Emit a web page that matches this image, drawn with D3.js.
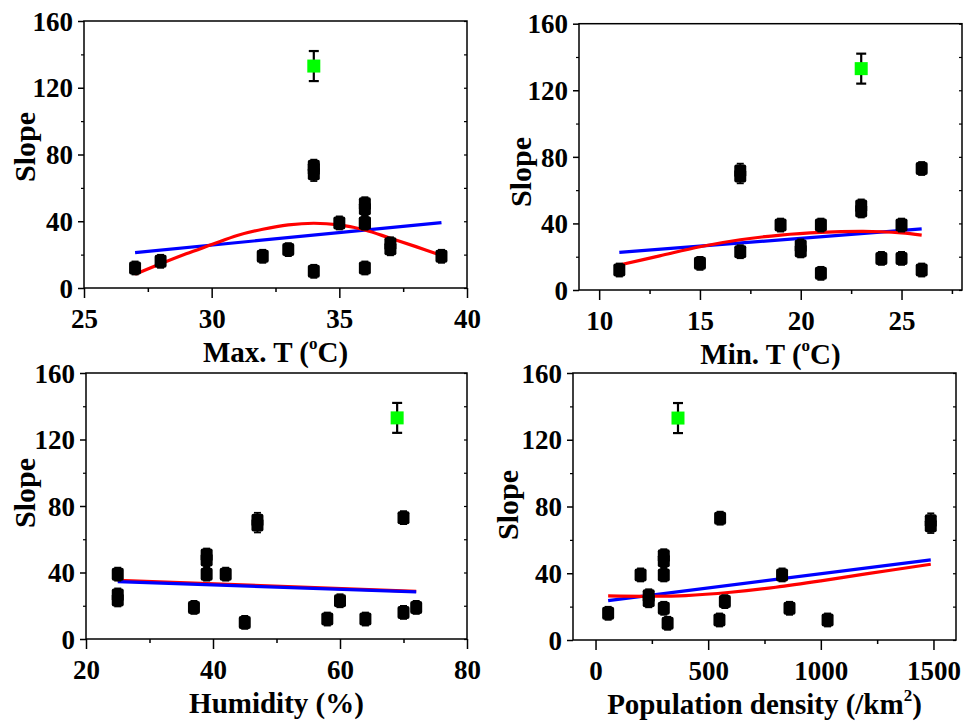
<!DOCTYPE html>
<html>
<head>
<meta charset="utf-8">
<script src="https://cdn.jsdelivr.net/npm/d3@7/dist/d3.min.js"></script>
<style>
  html, body { margin: 0; padding: 0; background: #fff; }
  svg text { font-family: "Liberation Serif", "Times New Roman", serif !important; font-weight: bold; fill: #000; }
</style>
</head>
<body>
<svg id="chart" width="963" height="722"></svg>
<script>
// ---------- DATA ----------
// Slope of each measurement (black points) and its error
const slopeValues = [16, 10, 68.5, 71.5, 73, 12, 12, 19, 19, 23, 39, 39, 39, 47.5, 50.5, 23.5, 26.5];
const slopeErrors = [1.5, 1.5, 2, 2, 1.5, 1.5, 1.5, 1.5, 1.5, 1.5, 1.5, 1.5, 1.5, 1.5, 1.5, 1.5, 1.5];
// Highlighted (green) site
const greenSlope = 133;
const greenError = 9;

// Predictor values for the same measurements (same order as slopeValues)
const maxT       = [28, 34, 34, 34, 34, 27, 36, 32, 39, 33, 35, 36, 36, 36, 36, 37, 37];
const minT       = [15, 21, 17, 17, 26, 11, 26, 24, 25, 17, 19, 21, 25, 23, 23, 20, 20];
const humidity   = [70, 45, 47, 47, 70, 58, 64, 37, 72, 60, 25, 39, 42, 39, 39, 25, 25];
const popDensity = [56, 320, 1488, 1488, 553, 550, 1030, 303, 861, 574, 200, 303, 828, 303, 303, 236, 236];
const greenX = { maxT: 34, minT: 23, humidity: 69, popDensity: 366 };

// Linear fits (blue) — endpoints
const linMaxT = { x: [27, 39], y: [21.2, 39.2] };
const linMinT = { x: [11, 26], y: [22.6, 36.7] };
const linHum  = { x: [25, 72], y: [34.5, 28.3] };
const linPop  = { x: [56, 1488], y: [23.6, 48] };

// Non-linear fits (red)
const curveMaxT = { x: [27, 28, 29, 30, 31, 32, 33, 34, 35, 36, 37, 38, 39],
                    y: [8.2, 14.5, 20.5, 26, 31.5, 35.2, 37.8, 38.8, 37.8, 34.8, 29.8, 24.8, 19.5] };
const curveMinT = { x: [11, 13, 15, 17, 19, 21, 23, 24, 25, 26],
                    y: [15, 20.5, 26, 30.2, 33, 34.6, 35.2, 35, 34.3, 33] };
const curveHum  = { x: [25, 72], y: [35.3, 28.7] };
const curvePop  = { x: [56, 236, 400, 600, 800, 1000, 1200, 1488],
                    y: [26.4, 26.2, 26.6, 28.6, 31.6, 35.4, 39.6, 45.4] };

// Axis ticks
const yTicks = [0, 40, 80, 120, 160];
const yMinorTicks = [20, 60, 100, 140];
const ticksMaxT = [25, 30, 35, 40];
const ticksMinT = [10, 15, 20, 25];
const ticksHum = [20, 40, 60, 80];
const ticksPop = [0, 500, 1000, 1500];

// ---------- PANELS ----------
const FONT = '"Liberation Serif", "Times New Roman", serif';
const panels = [
  { xs: maxT, gx: greenX.maxT, domain: [25, 40], ticks: ticksMaxT, minor: [27.5, 32.5, 37.5],
    lin: linMaxT, cur: curveMaxT, box: { l: 84, r: 467, t: 21, b: 288 },
    title: ["Max. T (", "o", "C)"], slopeY: 147, slopeX: 25, blueOnTop: false },
  { xs: minT, gx: greenX.minT, domain: [9, 28], ticks: ticksMinT, minor: [12.5, 17.5, 22.5, 27.5],
    lin: linMinT, cur: curveMinT, box: { l: 579, r: 962, t: 23.7, b: 290 },
    title: ["Min. T (", "o", "C)"], slopeY: 172, slopeX: 521, blueOnTop: false },
  { xs: humidity, gx: greenX.humidity, domain: [20, 80], ticks: ticksHum, minor: [30, 50, 70],
    lin: linHum, cur: curveHum, box: { l: 86, r: 467, t: 373, b: 639 },
    title: ["Humidity (%)"], slopeY: 493, slopeX: 25, blueOnTop: true },
  { xs: popDensity, gx: greenX.popDensity, domain: [-100, 1600], ticks: ticksPop, minor: [250, 750, 1250],
    lin: linPop, cur: curvePop, box: { l: 573, r: 956, t: 373, b: 640 },
    title: ["Population density (/km", "2", ")"], slopeY: 505, slopeX: 508, blueOnTop: false }
];

const svg = d3.select("#chart");

panels.forEach(p => {
  const B = p.box;
  const x = d3.scaleLinear().domain(p.domain).range([B.l, B.r]);
  const y = d3.scaleLinear().domain([0, 160]).range([B.b, B.t]);
  const g = svg.append("g");

  // Frame
  g.append("rect").attr("x", B.l).attr("y", B.t).attr("width", B.r - B.l).attr("height", B.b - B.t)
    .attr("fill", "none").attr("stroke", "#000").attr("stroke-width", 1.5);

  // Bottom axis
  const xAxis = d3.axisBottom(x).tickValues(p.ticks).tickSize(10).tickPadding(6).tickFormat(d3.format("d"));
  const gx = g.append("g").attr("transform", `translate(0,${B.b})`).call(xAxis)
    .attr("font-family", FONT).attr("font-size", 27).attr("font-weight", "bold");
  gx.select(".domain").remove();
  gx.selectAll(".tick line").attr("stroke-width", 1.5);
  gx.selectAll(".tick text").attr("dy", null).attr("y", 40)
    .attr("font-family", FONT).attr("font-size", 27).attr("font-weight", "bold");
  const xMinor = d3.axisBottom(x).tickValues(p.minor).tickSize(4).tickFormat("");
  const gxm = g.append("g").attr("transform", `translate(0,${B.b})`).call(xMinor);
  gxm.select(".domain").remove();
  gxm.selectAll(".tick line").attr("stroke-width", 1.5);

  // Left axis
  const yAxis = d3.axisLeft(y).tickValues(yTicks).tickSize(6).tickPadding(5).tickFormat(d3.format("d"));
  const gy = g.append("g").attr("transform", `translate(${B.l},0)`).call(yAxis)
    .attr("font-family", FONT).attr("font-size", 27).attr("font-weight", "bold");
  gy.select(".domain").remove();
  gy.selectAll(".tick line").attr("stroke-width", 1.5);
  gy.selectAll(".tick text").attr("dy", "0.34em")
    .attr("font-family", FONT).attr("font-size", 27).attr("font-weight", "bold");
  const yMinor = d3.axisLeft(y).tickValues(yMinorTicks).tickSize(3).tickFormat("");
  const gym = g.append("g").attr("transform", `translate(${B.l},0)`).call(yMinor);
  gym.select(".domain").remove();
  gym.selectAll(".tick line").attr("stroke-width", 1.2);

  // Right axis (inward ticks)
  const yRight = d3.axisLeft(y).tickValues(yTicks.concat(yMinorTicks)).tickSize(3).tickFormat("");
  const gr = g.append("g").attr("transform", `translate(${B.r},0)`).call(yRight);
  gr.select(".domain").remove();
  gr.selectAll(".tick line").attr("x2", -3).attr("stroke-width", 1.2);

  // Fit lines
  const line = d3.line().x(d => x(d[0])).y(d => y(d[1])).curve(d3.curveCatmullRom);
  const linPts = p.lin.x.map((v, i) => [v, p.lin.y[i]]);
  const curPts = p.cur.x.map((v, i) => [v, p.cur.y[i]]);
  const drawBlue = () => g.append("path").attr("d", line(linPts)).attr("fill", "none")
    .attr("stroke", "#0000ff").attr("stroke-width", 3.2);
  const drawRed = () => g.append("path").attr("d", line(curPts)).attr("fill", "none")
    .attr("stroke", "#ff0000").attr("stroke-width", 3.2);
  if (p.blueOnTop) { drawRed(); drawBlue(); } else { drawBlue(); drawRed(); }

  // Black points with error bars
  const pts = p.xs.map((v, i) => ({ x: v, y: slopeValues[i], e: slopeErrors[i] }));
  const ptG = g.append("g");
  pts.forEach(d => {
    const cx = x(d.x), cy = y(d.y), top = y(d.y + d.e) - 4, bot = y(d.y - d.e) + 4;
    ptG.append("line").attr("x1", cx).attr("x2", cx).attr("y1", top).attr("y2", bot)
      .attr("stroke", "#000").attr("stroke-width", 2);
    ptG.append("line").attr("x1", cx - 3.5).attr("x2", cx + 3.5).attr("y1", top).attr("y2", top)
      .attr("stroke", "#000").attr("stroke-width", 1.8);
    ptG.append("line").attr("x1", cx - 3.5).attr("x2", cx + 3.5).attr("y1", bot).attr("y2", bot)
      .attr("stroke", "#000").attr("stroke-width", 1.8);
    ptG.append("rect").attr("x", cx - 6).attr("y", cy - 6.5).attr("width", 12).attr("height", 13)
      .attr("rx", 2).attr("fill", "#000");
  });

  // Green point with error bar
  const gcx = x(p.gx), gcy = y(greenSlope), gt = y(greenSlope + greenError), gb = y(greenSlope - greenError);
  g.append("line").attr("x1", gcx).attr("x2", gcx).attr("y1", gt).attr("y2", gb)
    .attr("stroke", "#000").attr("stroke-width", 2.2);
  [gt, gb].forEach(yy => g.append("line").attr("x1", gcx - 5).attr("x2", gcx + 5)
    .attr("y1", yy).attr("y2", yy).attr("stroke", "#000").attr("stroke-width", 2.2));
  g.append("rect").attr("x", gcx - 6.5).attr("y", gcy - 6.5).attr("width", 13).attr("height", 13)
    .attr("fill", "#00ff00");

  // Axis title
  const tt = g.append("text").attr("x", (B.l + B.r) / 2).attr("y", B.b + 74)
    .attr("text-anchor", "middle").attr("font-size", 29).attr("font-family", FONT).attr("font-weight", "bold");
  if (p.title.length === 1) {
    tt.text(p.title[0]);
  } else {
    tt.append("tspan").text(p.title[0]);
    tt.append("tspan").attr("font-size", 17).attr("dy", -13).text(p.title[1]);
    tt.append("tspan").attr("dy", 13).text(p.title[2]);
  }

  // Y title
  g.append("text").attr("transform", `translate(${p.slopeX + 10},${p.slopeY}) rotate(-90)`)
    .attr("text-anchor", "middle").attr("font-size", 30).attr("font-family", FONT)
    .attr("font-weight", "bold").text("Slope");
});
</script>
</body>
</html>
